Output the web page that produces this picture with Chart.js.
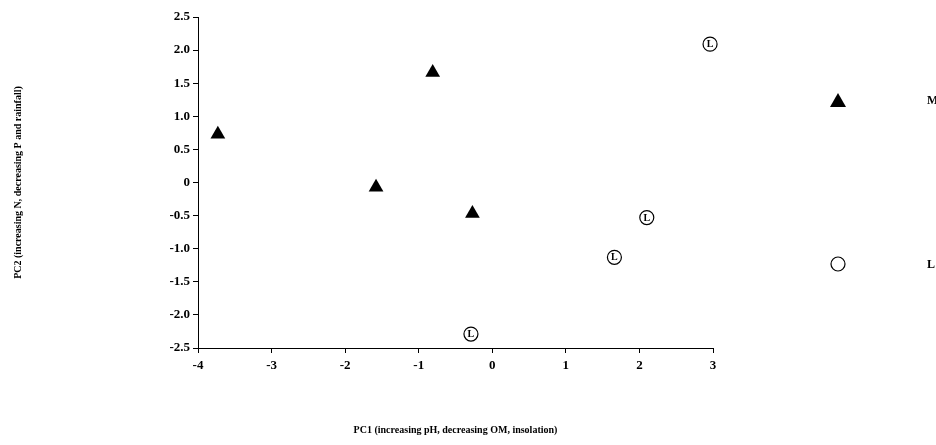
<!DOCTYPE html>
<html>
<head>
<meta charset="utf-8">
<script src="https://cdn.jsdelivr.net/npm/chart.js@4.4.1/dist/chart.umd.min.js"></script>
<style>
html, body { margin: 0; padding: 0; background: #fff; }
#wrap { width: 936px; height: 445px; }
</style>
</head>
<body>
<div id="wrap"><canvas id="pcaPlot"></canvas></div>
<script>
// group M (filled triangles) and group L (open circles with "L")
var mPC1 = [-3.73, -0.81, -1.58, -0.27];
var mPC2 = [0.73, 1.66, -0.07, -0.47];
var lPC1 = [2.96, 2.10, 1.66, -0.29];
var lPC2 = [2.09, -0.53, -1.13, -2.29];
var groupNames = ["M", "L"];
var xTicks = [-4, -3, -2, -1, 0, 1, 2, 3];
var yTicks = [2.5, 2.0, 1.5, 1.0, 0.5, 0, -0.5, -1.0, -1.5, -2.0, -2.5];

var serif = "'Liberation Serif', 'DejaVu Serif', serif";

function toPoints(xs, ys) {
    return xs.map(function (x, i) { return { x: x, y: ys[i] }; });
}

// writes the letter inside every circle of group L
var circleLetters = {
    id: 'circleLetters',
    afterDatasetsDraw: function (chart) {
        var ctx = chart.ctx;
        var meta = chart.getDatasetMeta(1);
        ctx.save();
        ctx.fillStyle = '#000';
        ctx.font = 'bold 10px ' + serif;
        ctx.textAlign = 'center';
        ctx.textBaseline = 'middle';
        meta.data.forEach(function (pt) {
            ctx.fillText('L', pt.x, pt.y + 0.5);
        });
        ctx.restore();
    }
};

// legend on the right, spread out like the original
var sideLegend = {
    id: 'sideLegend',
    afterDraw: function (chart) {
        var ctx = chart.ctx;
        ctx.save();
        // triangle
        ctx.fillStyle = '#000';
        ctx.beginPath();
        ctx.moveTo(838, 93);
        ctx.lineTo(846, 107);
        ctx.lineTo(830, 107);
        ctx.closePath();
        ctx.fill();
        // circle
        ctx.strokeStyle = '#000';
        ctx.lineWidth = 1.2;
        ctx.beginPath();
        ctx.arc(838, 264, 7, 0, Math.PI * 2);
        ctx.stroke();
        ctx.font = 'bold 12px ' + serif;
        ctx.textAlign = 'left';
        ctx.textBaseline = 'middle';
        ctx.fillText(groupNames[0], 927, 101);
        ctx.fillText(groupNames[1], 927, 265);
        ctx.restore();
    }
};

new Chart(document.getElementById('pcaPlot'), {
    type: 'scatter',
    data: {
        datasets: [{
            label: groupNames[0],
            data: toPoints(mPC1, mPC2),
            pointStyle: 'triangle',
            pointRadius: 8.5,
            pointHoverRadius: 8.5,
            backgroundColor: '#000',
            borderColor: '#000',
            borderWidth: 0,
            clip: false
        }, {
            label: groupNames[1],
            data: toPoints(lPC1, lPC2),
            pointStyle: 'circle',
            pointRadius: 7,
            pointHoverRadius: 7,
            backgroundColor: '#fff',
            borderColor: '#000',
            borderWidth: 1.2,
            clip: false
        }]
    },
    options: {
        responsive: true,
        maintainAspectRatio: false,
        animation: false,
        layout: { padding: { left: 0, right: 223, top: 17, bottom: 0 } },
        plugins: {
            legend: { display: false },
            tooltip: { enabled: false }
        },
        scales: {
            x: {
                type: 'linear',
                min: -4,
                max: 3,
                afterBuildTicks: function (s) { s.ticks = xTicks.map(function (v) { return { value: v }; }); },
                afterFit: function (s) { s.height = 97; },
                border: { display: true, color: '#000', width: 1 },
                grid: { display: true, drawOnChartArea: false, color: '#000', tickLength: 5 },
                ticks: {
                    color: '#000',
                    padding: 5,
                    maxRotation: 0,
                    font: { family: serif, size: 13, weight: 'bold' },
                    callback: function (v) { return String(v); }
                },
                title: {
                    display: true,
                    text: 'PC1 (increasing pH, decreasing OM, insolation)',
                    color: '#000',
                    font: { family: serif, size: 10, weight: 'bold' },
                    padding: { top: 0, bottom: 9 }
                }
            },
            y: {
                type: 'linear',
                min: -2.5,
                max: 2.5,
                afterBuildTicks: function (s) { s.ticks = yTicks.map(function (v) { return { value: v }; }); },
                afterFit: function (s) { s.width = 198; },
                border: { display: true, color: '#000', width: 1 },
                grid: { display: true, drawOnChartArea: false, color: '#000', tickLength: 5 },
                ticks: {
                    color: '#000',
                    padding: 3,
                    font: { family: serif, size: 13, weight: 'bold' },
                    callback: function (v) { return v === 0 ? '0' : v.toFixed(1); }
                },
                title: {
                    display: true,
                    text: 'PC2 (increasing N, decreasing P and rainfall)',
                    color: '#000',
                    font: { family: serif, size: 10, weight: 'bold' },
                    padding: { top: 12, bottom: 0 }
                }
            }
        }
    },
    plugins: [circleLetters, sideLegend]
});
</script>
</body>
</html>
